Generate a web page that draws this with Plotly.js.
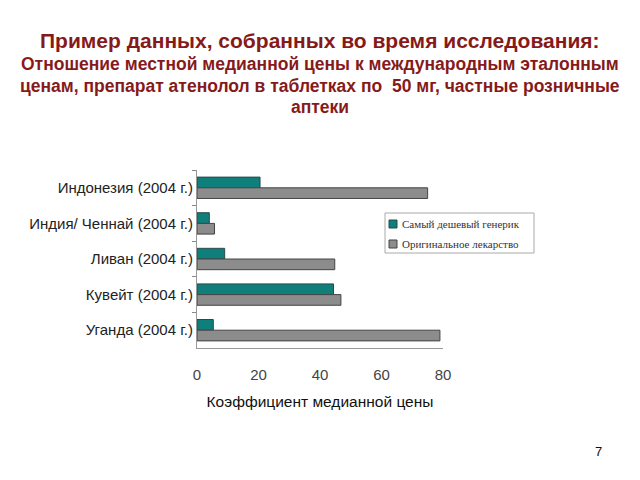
<!DOCTYPE html>
<html><head><meta charset="utf-8">
<script src="https://cdn.plot.ly/plotly-3.0.1.min.js"></script>
<style>html,body{margin:0;padding:0;background:#fff}#c{width:640px;height:480px}</style>
</head><body><div id="c"></div>
<script>
const categories = ["Индонезия (2004 г.)", "Индия/ Ченнай (2004 г.)", "Ливан (2004 г.)", "Кувейт (2004 г.)", "Уганда (2004 г.)"];
const genericValues = [20.5, 4.0, 9.0, 44.4, 5.3];
const originalValues = [75.0, 5.7, 44.8, 46.8, 79.0];
const seriesNames = ["Самый дешевый генерик", "Оригинальное лекарство"];
const seriesColors = ["#0F7F7C", "#8C8C8C"];
const xTicks = [0, 20, 40, 60, 80];

const titleColor = "#861A1A";
const traces = [
  {type: "bar", orientation: "h", y: categories, x: genericValues, name: seriesNames[0],
   marker: {color: seriesColors[0], line: {color: "#2a4a4a", width: 1}}},
  {type: "bar", orientation: "h", y: categories, x: originalValues, name: seriesNames[1],
   marker: {color: seriesColors[1], line: {color: "#444", width: 1}}}
];

// plot area in pixels: x 197..443, y 170..348
const px = v => (v - 197) / 246;
const py = v => (348 - v) / 178;

const shapes = [
  {type: "rect", xref: "paper", yref: "paper", x0: px(385), x1: px(534), y0: py(253), y1: py(213),
   line: {color: "#aaa", width: 1}, fillcolor: "#fff", layer: "above"},
  {type: "rect", xref: "paper", yref: "paper", x0: px(389), x1: px(397), y0: py(228), y1: py(220),
   line: {color: "#2a4a4a", width: 1}, fillcolor: seriesColors[0], layer: "above"},
  {type: "rect", xref: "paper", yref: "paper", x0: px(389), x1: px(397), y0: py(248), y1: py(240),
   line: {color: "#444", width: 1}, fillcolor: seriesColors[1], layer: "above"}
];

const legendFont = {family: "Liberation Serif, Times New Roman, serif", size: 11, color: "#333"};
const layout = {
  width: 640, height: 480,
  margin: {l: 197, r: 197, t: 170, b: 132},
  paper_bgcolor: "#fff", plot_bgcolor: "#fff",
  barmode: "group", bargap: 0.4, bargroupgap: 0,
  font: {family: "Liberation Sans, Arial, sans-serif", color: "#222"},
  xaxis: {range: [0, 80], tickvals: xTicks, showgrid: false, zeroline: false,
    showline: true, linecolor: "#999", linewidth: 1,
    ticks: "outside", ticklen: 13, tickcolor: "rgba(0,0,0,0)",
    tickfont: {size: 15, color: "#444"},
    title: {text: "Коэффициент медианной цены", font: {size: 15.5, color: "#111"}, standoff: 14}},
  yaxis: {autorange: "reversed", showgrid: false, zeroline: false,
    showline: true, linecolor: "#999", linewidth: 1,
    ticks: "outside", tickson: "boundaries", ticklen: 4, tickcolor: "#888",
    tickfont: {size: 15, color: "#222"}},
  showlegend: false,
  shapes: shapes,
  annotations: [
    {text: seriesNames[0], xref: "paper", yref: "paper", x: px(400), y: py(224),
     xanchor: "left", yanchor: "middle", showarrow: false, font: legendFont},
    {text: seriesNames[1], xref: "paper", yref: "paper", x: px(400), y: py(244),
     xanchor: "left", yanchor: "middle", showarrow: false, font: legendFont},
    {text: "<b>Пример данных, собранных во время исследования:</b>", xref: "paper", yref: "paper",
     x: 0.5, y: py(41), xanchor: "center", yanchor: "middle", showarrow: false,
     font: {size: 21, color: titleColor, family: "Liberation Sans, Arial, sans-serif"}},
    {text: "<b>Отношение местной медианной цены к международным эталонным</b>", xref: "paper", yref: "paper",
     x: 0.5, y: py(64), xanchor: "center", yanchor: "middle", showarrow: false,
     font: {size: 17.5, color: titleColor}},
    {text: "<b>ценам, препарат атенолол в таблетках по  50 мг, частные розничные</b>", xref: "paper", yref: "paper",
     x: 0.5, y: py(86), xanchor: "center", yanchor: "middle", showarrow: false,
     font: {size: 17.5, color: titleColor}},
    {text: "<b>аптеки</b>", xref: "paper", yref: "paper",
     x: 0.5, y: py(107), xanchor: "center", yanchor: "middle", showarrow: false,
     font: {size: 17.5, color: titleColor}},
    {text: "7", xref: "paper", yref: "paper",
     x: px(598), y: py(451), xanchor: "center", yanchor: "middle", showarrow: false,
     font: {size: 13, color: "#111"}}
  ]
};
Plotly.newPlot("c", traces, layout, {staticPlot: true, displayModeBar: false});
</script></body></html>
